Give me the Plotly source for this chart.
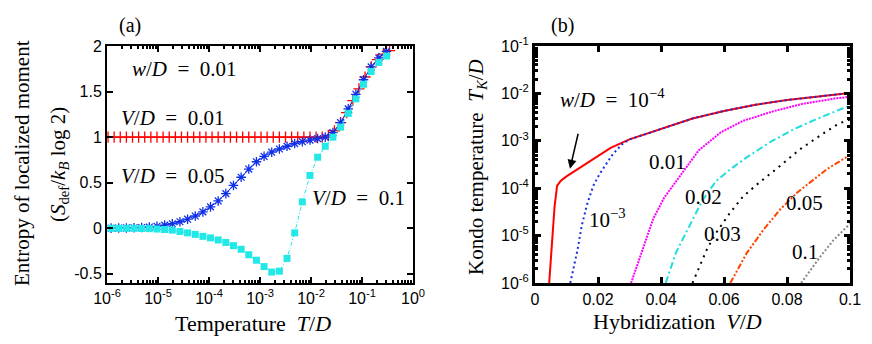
import plotly.graph_objects as go

# ---- panel (a): entropy vs temperature ----
t_exp_red = [-5.98, -5.86, -5.74, -5.62, -5.50, -5.38, -5.26, -5.14, -5.02, -4.90,
             -4.78, -4.66, -4.54, -4.42, -4.30, -4.18, -4.06, -3.94, -3.82, -3.70,
             -3.58, -3.46, -3.34, -3.22, -3.10, -2.98, -2.86, -2.74, -2.62, -2.50,
             -2.38, -2.26, -2.14, -2.02, -1.90, -1.78, -1.66, -1.54, -1.42, -1.30,
             -1.18, -1.06, -0.94, -0.82, -0.70, -0.58, -0.46]
s_v001 = [1.0, 1.0, 1.0, 1.0, 1.0, 1.0, 1.0, 1.0, 1.0, 1.0,
          1.0, 1.0, 1.0, 1.0, 1.0, 1.0, 1.0, 1.0, 1.0, 1.0,
          1.0, 1.0, 1.0, 1.0, 1.0, 1.0, 1.0, 1.0, 1.0, 1.0,
          1.0, 1.0, 1.0, 1.0, 1.0, 1.0, 1.02, 1.07, 1.16, 1.27,
          1.40, 1.53, 1.66, 1.77, 1.85, 1.91, 1.95]

t_exp = [-5.92, -5.77, -5.62, -5.47, -5.32, -5.17, -5.02, -4.87, -4.72, -4.57,
         -4.42, -4.27, -4.12, -3.97, -3.82, -3.67, -3.52, -3.37, -3.22, -3.07,
         -2.92, -2.77, -2.62, -2.47, -2.32, -2.17, -2.02, -1.87, -1.72, -1.57,
         -1.42, -1.27, -1.12, -0.97, -0.82, -0.67, -0.52]
s_v005 = [0.002, 0.003, 0.004, 0.006, 0.009, 0.014, 0.022, 0.035, 0.05, 0.072,
          0.1, 0.135, 0.18, 0.235, 0.3, 0.38, 0.47, 0.56, 0.65, 0.73,
          0.79, 0.835, 0.87, 0.90, 0.93, 0.95, 0.968, 0.985, 1.0, 1.05,
          1.16, 1.31, 1.47, 1.63, 1.77, 1.87, 1.94]
s_v01 = [0.0, 0.0, 0.0, 0.0, -0.002, -0.004, -0.008, -0.013, -0.02, -0.035,
         -0.05, -0.067, -0.088, -0.105, -0.128, -0.155, -0.19, -0.23, -0.29, -0.35,
         -0.42, -0.48, -0.47, -0.33, -0.05, 0.29, 0.58, 0.78, 0.9, 1.0,
         1.11, 1.26, 1.42, 1.58, 1.72, 1.82, 1.89]

# ---- panel (b): Kondo temperature vs hybridization (log10 T_K/D) ----
v_w1e4 = [0.0045, 0.0050, 0.0055, 0.0062, 0.0070, 0.0082, 0.0100, 0.0130, 0.0160, 0.0200,
          0.0240, 0.0300, 0.0360, 0.0430, 0.0500, 0.0600, 0.0700, 0.0800, 0.0900, 0.1000]
tk_w1e4 = [-6.0, -5.5, -4.95, -4.4, -3.95, -3.84, -3.75, -3.62, -3.50, -3.33,
           -3.15, -2.97, -2.84, -2.68, -2.53, -2.37, -2.24, -2.14, -2.06, -1.99]
v_w1e3 = [0.0112, 0.0125, 0.0135, 0.0148, 0.0165, 0.0185, 0.0205, 0.0225, 0.0245, 0.0275,
          0.0300, 0.0360, 0.0430, 0.0500, 0.0600, 0.0700, 0.0800, 0.0900, 0.1000]
tk_w1e3 = [-6.0, -5.6, -5.3, -4.8, -4.35, -3.95, -3.7, -3.5, -3.3, -3.08,
           -2.97, -2.84, -2.68, -2.53, -2.37, -2.24, -2.14, -2.06, -1.99]
v_w001 = [0.0305, 0.0325, 0.0345, 0.0375, 0.0410, 0.0460, 0.0520, 0.0590, 0.0660, 0.0760,
          0.0850, 0.0950, 0.1000]
tk_w001 = [-6.0, -5.6, -5.2, -4.65, -4.2, -3.75, -3.2, -2.82, -2.58, -2.37,
           -2.22, -2.11, -2.07]
v_w002 = [0.0415, 0.0448, 0.0490, 0.0532, 0.0575, 0.0620, 0.0672, 0.0746, 0.0820, 0.0894,
          0.0968, 0.1000]
tk_w002 = [-6.0, -5.35, -4.8, -4.25, -3.85, -3.6, -3.35, -3.03, -2.76, -2.54,
           -2.34, -2.26]
v_w003 = [0.0500, 0.0545, 0.0571, 0.0619, 0.0661, 0.0714, 0.0778, 0.0841, 0.0905, 0.0963, 0.1000]
tk_w003 = [-6.0, -5.3, -4.98, -4.52, -4.17, -3.87, -3.53, -3.18, -2.89, -2.64, -2.55]
v_w005 = [0.0620, 0.0672, 0.0725, 0.0778, 0.0831, 0.0884, 0.0926, 0.1000]
tk_w005 = [-6.0, -5.37, -4.88, -4.45, -4.1, -3.81, -3.6, -3.3]
v_w01 = [0.0845, 0.0905, 0.0947, 0.1000]
tk_w01 = [-6.0, -5.45, -5.1, -4.75]

# tick labels
a_xtick_exp = [-6, -5, -4, -3, -2, -1, 0]
a_ytick = [-0.5, 0, 0.5, 1, 1.5, 2]
a_ytick_text = ["-0.5", "0", "0.5", "1", "1.5", "2"]
b_xtick = [0, 0.02, 0.04, 0.06, 0.08, 0.1]
b_xtick_text = ["0", "0.02", "0.04", "0.06", "0.08", "0.1"]
b_ytick_exp = [-6, -5, -4, -3, -2, -1]

SERIF = "Liberation Serif"
SANS = "Liberation Sans"
EQ = "\u2002=\u2002"

fig = go.Figure()

# panel (a) traces
fig.add_trace(go.Scatter(x=[10 ** e for e in t_exp_red], y=s_v001, mode="lines+markers",
                         line=dict(color="#ff0000", width=1),
                         marker=dict(symbol="cross-thin", size=8, line=dict(color="#ff0000", width=1.3)),
                         xaxis="x", yaxis="y"))
fig.add_trace(go.Scatter(x=[10 ** e for e in t_exp], y=s_v005, mode="lines+markers",
                         line=dict(color="#1030e8", width=1),
                         marker=dict(symbol="asterisk", size=8, line=dict(color="#1030e8", width=1.3)),
                         xaxis="x", yaxis="y"))
fig.add_trace(go.Scatter(x=[10 ** e for e in t_exp], y=s_v01, mode="lines+markers",
                         line=dict(color="#22e8e8", width=1, dash="4px,2px,1px,2px"),
                         marker=dict(symbol="square", size=7, color="#22e8e8"),
                         xaxis="x", yaxis="y"))

# panel (b) traces
def tk_line(v, tk, color, dash, width=2):
    return go.Scatter(x=v, y=[10 ** e for e in tk], mode="lines",
                      line=dict(color=color, width=width, dash=dash),
                      xaxis="x2", yaxis="y2")

fig.add_trace(tk_line(v_w01, tk_w01, "#888888", "2px,2px"))
fig.add_trace(tk_line(v_w005, tk_w005, "#ff4500", "6px,2px,2px,2px,2px,2px"))
fig.add_trace(tk_line(v_w003, tk_w003, "#000000", "2px,5px"))
fig.add_trace(tk_line(v_w002, tk_w002, "#22dddd", "7px,3px,2px,3px"))
fig.add_trace(tk_line(v_w001, tk_w001, "#ff00ff", "2px,1px"))
fig.add_trace(tk_line(v_w1e4, tk_w1e4, "#ff0000", "solid"))
fig.add_trace(tk_line(v_w1e3, tk_w1e3, "#1030e8", "2px,3px"))

axis_common = dict(showline=True, linecolor="black", mirror="ticks", ticks="inside",
                   showgrid=False, zeroline=False, tickcolor="black", automargin=False,
                   tickfont=dict(family=SANS, size=16, color="black"))

fig.update_layout(
    width=872, height=344,
    margin=dict(l=0, r=0, t=0, b=0, autoexpand=False),
    paper_bgcolor="white", plot_bgcolor="white",
    showlegend=False,
    xaxis=dict(axis_common, type="log", domain=[107 / 872, 413 / 872], range=[-6, 0],
               linewidth=2, tickwidth=1.5, ticklen=6,
               tickvals=[10 ** e for e in a_xtick_exp],
               ticktext=["10<sup>%d</sup>" % e for e in a_xtick_exp],
               minor=dict(ticks="inside", ticklen=3, tickcolor="black",
                          tickvals=[k * 10 ** e for e in a_xtick_exp[:-1] for k in range(2, 10)]),
               anchor="y"),
    yaxis=dict(axis_common, domain=[1 - 283 / 344, 1 - 46 / 344], range=[-0.6, 2],
               linewidth=2, tickwidth=1.5, ticklen=6,
               tickvals=a_ytick, ticktext=a_ytick_text, anchor="x"),
    xaxis2=dict(axis_common, domain=[535 / 872, 850 / 872], range=[0, 0.1],
                linewidth=3, tickwidth=2.5, ticklen=6,
                tickvals=b_xtick, ticktext=b_xtick_text, anchor="y2"),
    yaxis2=dict(axis_common, type="log", domain=[1 - 283 / 344, 1 - 46 / 344], range=[-6, -1],
                linewidth=3, tickwidth=2.5, ticklen=6,
                tickvals=[10 ** e for e in b_ytick_exp],
                ticktext=["10<sup>%d</sup>" % e for e in b_ytick_exp],
                minor=dict(ticks="inside", ticklen=3, tickcolor="black",
                           tickvals=[k * 10 ** e for e in b_ytick_exp[:-1] for k in range(2, 10)]),
                anchor="x2"),
)

def note(text, x, y, xref, yref, size=21, **kw):
    fig.add_annotation(text=text, x=x, y=y, xref=xref, yref=yref, showarrow=False,
                       xanchor="center", yanchor="middle",
                       font=dict(family=SERIF, size=size, color="black"), **kw)

# panel (a) labels (log10 T, S)
note("<i>w</i>/<i>D</i>" + EQ + "0.01", -4.49, 1.75, "x", "y")
note("<i>V</i>/<i>D</i>" + EQ + "0.01", -4.71, 1.21, "x", "y")
note("<i>V</i>/<i>D</i>" + EQ + "0.05", -4.71, 0.57, "x", "y")
note("<i>V</i>/<i>D</i>" + EQ + "0.1", -1.06, 0.33, "x", "y")

# panel (b) labels (V, log10 T_K)
note("<i>w</i>/<i>D</i>" + EQ + "10<sup>−4</sup>", 0.0245, -2.11, "x2", "y2")
note("0.01", 0.0422, -3.45, "x2", "y2")
note("10<sup>−3</sup>", 0.0229, -4.64, "x2", "y2")
note("0.02", 0.0534, -4.18, "x2", "y2")
note("0.03", 0.0594, -4.96, "x2", "y2")
note("0.05", 0.0857, -4.32, "x2", "y2")
note("0.1", 0.0857, -5.35, "x2", "y2")
fig.add_annotation(x=0.0111, y=-3.59, ax=0.0138, ay=-2.82, xref="x2", yref="y2",
                   axref="x2", ayref="y2", text="", showarrow=True,
                   arrowhead=2, arrowsize=1.2, arrowwidth=1.5, arrowcolor="black")

# panel letters and axis titles (paper coords)
note("(a)", 130 / 872, 1 - 25 / 344, "paper", "paper", size=20)
note("(b)", 562 / 872, 1 - 25 / 344, "paper", "paper", size=20)
note("Temperature  <i>T</i>/<i>D</i>", 253 / 872, 1 - 323 / 344, "paper", "paper", size=22)
note("Hybridization  <i>V</i>/<i>D</i>", 677 / 872, 1 - 321 / 344, "paper", "paper", size=22)
note("Entropy of localized moment", 22 / 872, 1 - 163 / 344, "paper", "paper", size=21, textangle=-90)
note("(<i>S</i><sub>def</sub>/<i>k</i><sub><i>B</i></sub> log 2)", 59 / 872, 1 - 165 / 344,
     "paper", "paper", size=21, textangle=-90)
note("Kondo temperature  <i>T</i><sub><i>K</i></sub>/<i>D</i>", 477 / 872, 1 - 167 / 344,
     "paper", "paper", size=21, textangle=-90)

fig.write_html("out.html", config={"displayModeBar": False},
               post_script="document.body.style.margin='0px';")
